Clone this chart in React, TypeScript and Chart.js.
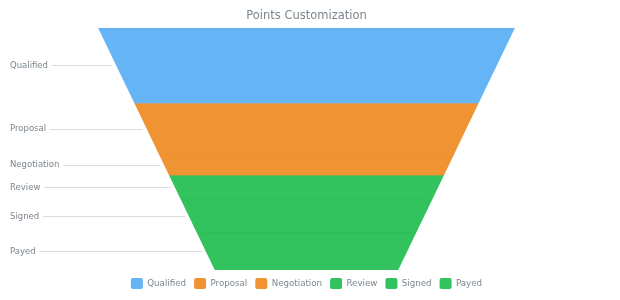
import React, { useEffect, useRef } from "react";
import { Chart, registerables } from "chart.js";

Chart.register(...registerables);

const TITLE = "Points Customization";
const categories = ["Qualified", "Proposal", "Negotiation", "Review", "Signed", "Payed"];
const values = [75, 52, 20, 25, 33, 37];
const colors = ["#64b4f6", "#f09332", "#f09332", "#32c35f", "#32c35f", "#32c35f"];
const separatorColors = ["#64b4f6", "#f09332", "#f09332", "#2fba5a", "#2fba5a"];
const NECK_RATIO = 0.44;
const FONT = "DejaVu Sans";

export default function App() {
  const ref = useRef<HTMLCanvasElement>(null);

  useEffect(() => {
    if (!ref.current) return;
    const total = values.reduce((a, b) => a + b, 0);
    const half = (v: number) => 1 - ((1 - NECK_RATIO) * v) / total;

    let cum = 0;
    const datasets = categories.map((name, i) => {
      const y0 = cum;
      const y1 = cum + values[i];
      cum = y1;
      return {
        label: name,
        data: [
          { x: -half(y0), y: y0 },
          { x: half(y0), y: y0 },
          { x: half(y1), y: y1 },
          { x: -half(y1), y: y1 },
          { x: -half(y0), y: y0 },
        ],
        showLine: true,
        fill: "shape",
        backgroundColor: colors[i],
        borderWidth: 0,
        borderColor: "rgba(0,0,0,0)",
        pointRadius: 0,
        pointHoverRadius: 0,
        tension: 0,
      };
    });

    const labelsPlugin = {
      id: "funnelLabels",
      afterDatasetsDraw(chart: any) {
        const { ctx, scales } = chart;
        const x = scales.x;
        const y = scales.y;
        ctx.save();
        // separators between segments
        let b = 0;
        for (let i = 0; i < categories.length - 1; i++) {
          b += values[i];
          const py = y.getPixelForValue(b);
          ctx.strokeStyle = separatorColors[i];
          ctx.lineWidth = 1;
          ctx.beginPath();
          ctx.moveTo(x.getPixelForValue(-half(b)) + 0.5, py);
          ctx.lineTo(x.getPixelForValue(half(b)) - 0.5, py);
          ctx.stroke();
        }
        // category labels with connectors
        ctx.font = `8.5px "${FONT}"`;
        ctx.textBaseline = "middle";
        ctx.textAlign = "left";
        let c = 0;
        categories.forEach((name, i) => {
          const mid = c + values[i] / 2;
          c += values[i];
          const py = y.getPixelForValue(mid);
          const edge = x.getPixelForValue(-half(mid));
          ctx.fillStyle = "#7c868e";
          ctx.fillText(name, 10, py);
          const w = ctx.measureText(name).width;
          ctx.strokeStyle = "#dadde0";
          ctx.lineWidth = 1;
          ctx.beginPath();
          const ly = Math.round(py) + 0.5;
          ctx.moveTo(10 + w + 4, ly);
          ctx.lineTo(edge - 4, ly);
          ctx.stroke();
        });
        ctx.restore();
      },
    };

    const chart = new Chart(ref.current, {
      type: "scatter",
      data: { datasets: datasets as any },
      options: {
        animation: false,
        responsive: true,
        maintainAspectRatio: false,
        layout: { padding: { left: 98, right: 105, top: 0, bottom: 1 } },
        scales: {
          x: { type: "linear", min: -1, max: 1, display: false },
          y: { type: "linear", min: 0, max: total, reverse: true, display: false },
        },
        plugins: {
          title: {
            display: true,
            text: TITLE,
            color: "#7c868e",
            font: { family: FONT, size: 11.5, weight: "normal" },
            padding: { top: 9, bottom: 5 },
          },
          legend: {
            display: true,
            position: "bottom",
            labels: {
              font: { family: FONT, size: 8.7 },
              color: "#7c868e",
              boxWidth: 12,
              boxHeight: 11,
              padding: 8,
              useBorderRadius: true,
              borderRadius: 2,
              generateLabels: () =>
                categories.map((name, i) => ({
                  text: name,
                  fillStyle: colors[i],
                  strokeStyle: colors[i],
                  lineWidth: 0,
                  hidden: false,
                  datasetIndex: i,
                  borderRadius: 2,
                  fontColor: "#7c868e",
                })),
            },
          },
          tooltip: { enabled: false },
        },
      },
      plugins: [labelsPlugin],
    });
    return () => chart.destroy();
  }, []);

  return (
    <div style={{ position: "fixed", left: 0, top: 0, width: 620, height: 300 }}>
      <canvas ref={ref} />
    </div>
  );
}
